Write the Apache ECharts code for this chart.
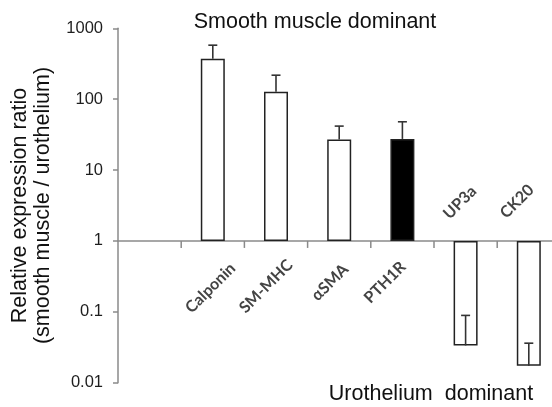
<!DOCTYPE html>
<html>
<head>
<meta charset="utf-8">
<script src="https://cdn.jsdelivr.net/npm/echarts@6/dist/echarts.min.js"></script>
<style>
  html, body { margin: 0; padding: 0; background: #ffffff; }
  #chart { width: 552px; height: 407px; }
</style>
</head>
<body>
<div id="chart"></div>
<script>
// ---- data ----
const categories = ['', 'Calponin', 'SM-MHC', 'αSMA', 'PTH1R', 'UP3a', 'CK20'];
const ratio      = [null, 372, 127, 27, 27.5, 0.0335, 0.0173];
const errorTop   = [null, 578, 218, 41.7, 48, 0.089, 0.0361];
const yTickLabels = ['0.01', '0.1', '1', '10', '100', '1000'];
const filledCategory = 'PTH1R';
const titleTop = 'Smooth muscle dominant';
const titleBottom = 'Urothelium  dominant';
const yTitle = 'Relative expression ratio\n(smooth muscle / urothelium)';

// ---- layout / style (not data) ----
// label centre offset (px) from the category centre on the value-1 line
const labelOffset = {
  'Calponin': [-2.3, 47], 'SM-MHC': [-10, 45.5], 'αSMA': [-9.2, 41.5], 'PTH1R': [-17.4, 41.5],
  'UP3a': [-5.6, -38.5], 'CK20': [-11.8, -39.5]
};
const axisGray = '#8a8a8a';
const gridTop = 28.3, gridH = 354.4, gridLeft = 118, catW = 63.2;
const oneY = gridTop + gridH * 3 / 5; // pixel of value 1 on the log axis

const chart = echarts.init(document.getElementById('chart'), null, { renderer: 'canvas' });

chart.setOption({
  animation: false,
  backgroundColor: '#ffffff',
  grid: { left: gridLeft, top: gridTop, width: catW * categories.length, height: gridH, outerBoundsMode: 'none', containLabel: false },
  xAxis: {
    type: 'category', data: categories, position: 'bottom',
    offset: -(gridTop + gridH - oneY),
    axisLine: { onZero: false, lineStyle: { color: axisGray, width: 1.5 } },
    axisTick: { show: false },
    axisLabel: { show: false },
    splitLine: { show: false }
  },
  yAxis: {
    type: 'log', logBase: 10, min: 0.01, max: 1000,
    axisLine: { show: true, lineStyle: { color: axisGray, width: 1.5 } },
    axisTick: { show: true, length: 5, inside: false, lineStyle: { color: axisGray, width: 1.5 } },
    minorTick: { show: false },
    splitLine: { show: false },
    axisLabel: {
      margin: 15, fontFamily: 'Liberation Sans', fontSize: 16.5, color: '#1e1e1e',
      formatter: v => yTickLabels[Math.round(Math.log10(v)) + 2]
    }
  },
  series: [
    {
      type: 'bar', barWidth: 24,
      data: ratio.map((v, i) => ({
        value: v,
        itemStyle: { color: categories[i] === filledCategory ? '#000000' : '#ffffff' }
      })),
      itemStyle: { borderColor: '#222222', borderWidth: 1.5 },
      emphasis: { disabled: true }
    },
    {
      // error bars
      type: 'custom',
      data: ratio.map((v, i) => [i, v, errorTop[i]]),
      renderItem: (params, api) => {
        const v = api.value(1), e = api.value(2);
        if (!v || isNaN(v)) return null;
        const p0 = api.coord([api.value(0), v]);
        const p1 = api.coord([api.value(0), e]);
        const cap = 4.5;
        const st = { stroke: '#333333', lineWidth: 1.6 };
        return {
          type: 'group',
          children: [
            { type: 'line', shape: { x1: p0[0], y1: p0[1], x2: p1[0], y2: p1[1] }, style: st },
            { type: 'line', shape: { x1: p1[0] - cap, y1: p1[1], x2: p1[0] + cap, y2: p1[1] }, style: st }
          ]
        };
      },
      z: 5, silent: true
    },
    {
      // category ticks (boundaries) and rotated category labels on the value-1 line
      type: 'custom',
      data: categories.map((c, i) => [i, 1]),
      renderItem: (params, api) => {
        const i = api.value(0);
        const c = categories[i];
        const p = api.coord([i, 1]);
        const band = api.size([1, 0])[0];
        const children = [];
        if (i > 0) {
          children.push({
            type: 'line',
            shape: { x1: p[0] - band / 2, y1: p[1], x2: p[0] - band / 2, y2: p[1] + 7 },
            style: { stroke: axisGray, lineWidth: 1.5 }
          });
        }
        if (c) {
          const off = labelOffset[c] || [0, 40];
          children.push({
            type: 'text',
            x: p[0] + off[0], y: p[1] + off[1], rotation: Math.PI / 4,
            style: {
              text: c, fontFamily: 'Lato', fontWeight: 'bold', fontSize: 16,
              fill: '#444444', align: 'center', verticalAlign: 'middle'
            }
          });
        }
        return { type: 'group', children };
      },
      z: 6, silent: true
    }
  ],
  graphic: [
    {
      type: 'text', x: 315, y: 22,
      style: { text: titleTop, fontFamily: 'Liberation Sans', fontSize: 21.5, fill: '#111111', align: 'center', verticalAlign: 'middle' }
    },
    {
      type: 'text', x: 431, y: 394.5,
      style: { text: titleBottom, fontFamily: 'Liberation Sans', fontSize: 21.5, fill: '#111111', align: 'center', verticalAlign: 'middle' }
    },
    {
      type: 'text', x: 31.5, y: 205.5, rotation: Math.PI / 2,
      style: { text: yTitle, fontFamily: 'Liberation Sans', fontSize: 21.5, lineHeight: 23, fill: '#111111', align: 'center', verticalAlign: 'middle' }
    }
  ]
});
</script>
</body>
</html>
